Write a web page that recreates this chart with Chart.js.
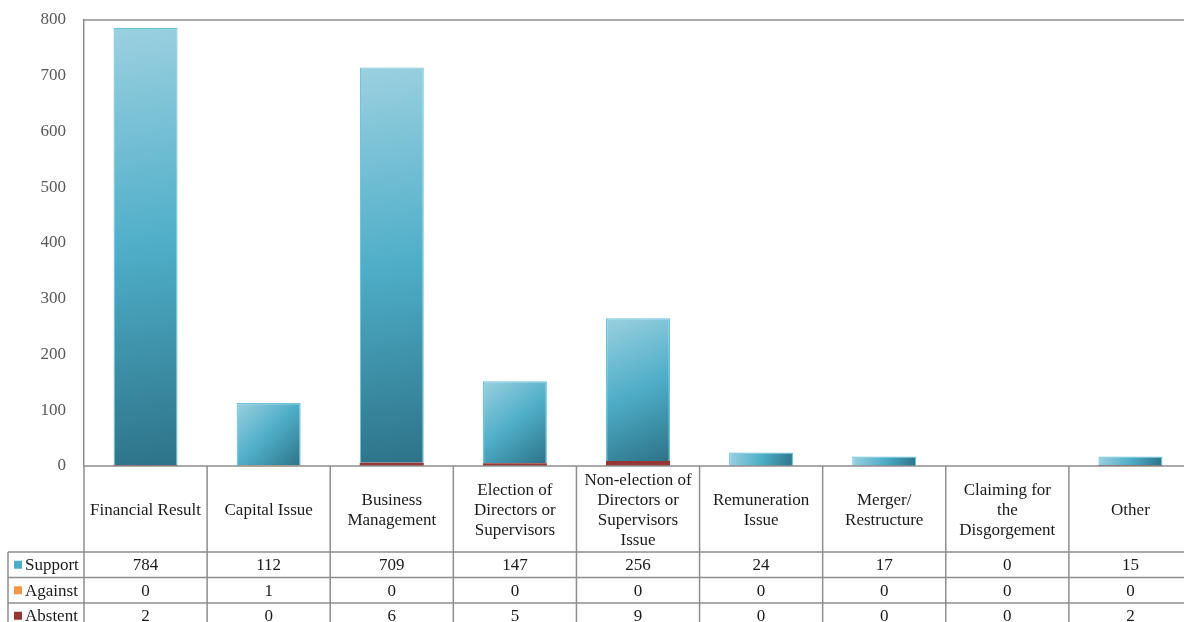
<!DOCTYPE html>
<html lang="en">
<head>
  <meta charset="UTF-8">
  <title>Votes by proposal type</title>
  <script src="https://cdn.jsdelivr.net/npm/chart.js"></script>
  <style>
    html, body { margin: 0; padding: 0; background: #fff; overflow: hidden; }
    #wrap { position: absolute; left: 0; top: 0; width: 1192px; height: 630px; }
  </style>
</head>
<body>
  <div id="wrap"><canvas id="chart"></canvas></div>

  <script>
    // categories (multi-line labels as they wrap in the table header)
    const categories = [
      ["Financial Result"],
      ["Capital Issue"],
      ["Business", "Management"],
      ["Election of", "Directors or", "Supervisors"],
      ["Non-election of", "Directors or", "Supervisors", "Issue"],
      ["Remuneration", "Issue"],
      ["Merger/", "Restructure"],
      ["Claiming for", "the", "Disgorgement"],
      ["Other"]
    ];
    const support = [784, 112, 709, 147, 256, 24, 17, 0, 15];
    const against = [0, 1, 0, 0, 0, 0, 0, 0, 0];
    const abstent = [2, 0, 6, 5, 9, 0, 0, 0, 2];
    const yMax = 800;
    const yStep = 100;

    const SERIF = '"Liberation Serif", "Times New Roman", serif';
    const LINE = '#8e8e8e';
    const FONT_SIZE = 17;

    // per-bar diagonal gradient like the Excel fill
    function supportFill(c) {
      const chart = c.chart;
      const area = chart.chartArea;
      const x = chart.scales && chart.scales.x, y = chart.scales && chart.scales.y;
      if (!area || !x || !y || c.dataIndex === undefined) return '#4BACC6';
      const cx = x.getPixelForValue(c.dataIndex);
      const half = (area.right - area.left) / categories.length * 0.26;
      const base = abstent[c.dataIndex] + against[c.dataIndex];
      const yTop = y.getPixelForValue(base + support[c.dataIndex]);
      const yBot = y.getPixelForValue(base);
      if (!isFinite(yTop) || !isFinite(cx) || yBot - yTop < 0.5) return '#4BACC6';
      const g = chart.ctx.createLinearGradient(cx - half, yTop, cx + half, yBot);
      g.addColorStop(0, '#9bd0e0');
      g.addColorStop(0.5, '#4eaec8');
      g.addColorStop(1, '#2d7388');
      return g;
    }

    const rows = [
      { name: "Support", color: "#4BACC6", values: support },
      { name: "Against", color: "#F79646", values: against },
      { name: "Abstent", color: "#953735", values: abstent }
    ];

    const dataTable = {
      id: 'dataTable',
      afterDraw(chart) {
        const { ctx, chartArea: a } = chart;
        const x = chart.scales.x;
        const n = categories.length;
        const colW = (a.right - a.left) / n;
        const headH = 86, rowH = 25.5;
        const top = a.bottom, rowsTop = top + headH;
        const bottom = rowsTop + rows.length * rowH;
        const legendLeft = 8;

        ctx.save();
        ctx.strokeStyle = LINE;
        ctx.lineWidth = 1.5;

        // plot frame top
        ctx.beginPath();
        ctx.moveTo(a.left, a.top);
        ctx.lineTo(a.right, a.top);
        ctx.stroke();

        // horizontal table lines
        ctx.beginPath();
        ctx.moveTo(a.left, top); ctx.lineTo(a.right, top);
        for (let r = 0; r <= rows.length; r++) {
          const yy = rowsTop + r * rowH;
          ctx.moveTo(legendLeft, yy); ctx.lineTo(a.right, yy);
        }
        // vertical lines
        for (let i = 0; i <= n; i++) {
          const xx = a.left + i * colW;
          ctx.moveTo(xx, top); ctx.lineTo(xx, bottom);
        }
        ctx.moveTo(legendLeft, rowsTop); ctx.lineTo(legendLeft, bottom);
        ctx.stroke();

        // header labels
        ctx.fillStyle = '#1a1a1a';
        ctx.font = FONT_SIZE + 'px ' + SERIF;
        ctx.textAlign = 'center';
        ctx.textBaseline = 'middle';
        const lh = 20;
        categories.forEach((lines, i) => {
          const cx = x.getPixelForValue(i);
          const y0 = top + headH / 2 + 2 - (lines.length - 1) * lh / 2;
          lines.forEach((t, k) => ctx.fillText(t, cx, y0 + k * lh));
        });

        // rows
        rows.forEach((row, r) => {
          const cy = rowsTop + r * rowH + rowH / 2;
          ctx.fillStyle = row.color;
          ctx.fillRect(legendLeft + 6, cy - 4, 8, 8);
          ctx.fillStyle = '#1a1a1a';
          ctx.textAlign = 'left';
          ctx.fillText(row.name, legendLeft + 17, cy + 1);
          ctx.textAlign = 'center';
          row.values.forEach((v, i) => {
            ctx.fillText(String(v), x.getPixelForValue(i), cy + 1);
          });
        });
        ctx.restore();
      }
    };

    const ctx = document.getElementById('chart').getContext('2d');
    new Chart(ctx, {
      type: 'bar',
      data: {
        labels: categories,
        datasets: [
          { label: "Abstent", data: abstent, backgroundColor: "#953735", borderWidth: 0 },
          { label: "Against", data: against, backgroundColor: "#F79646", borderWidth: 0 },
          { label: "Support", data: support, backgroundColor: supportFill, borderColor: "#6ac4dc", borderWidth: 1.2 }
        ]
      },
      options: {
        responsive: true,
        maintainAspectRatio: false,
        animation: false,
        layout: { padding: { left: 0, right: 0, top: 20, bottom: 164 } },
        datasets: { bar: { categoryPercentage: 1, barPercentage: 0.52 } },
        plugins: { legend: { display: false }, tooltip: { enabled: false } },
        scales: {
          x: { stacked: true, display: false },
          y: {
            stacked: true,
            min: 0,
            max: yMax,
            afterFit(scale) {
              scale.width = 84;
              scale.paddingTop = 0;
              scale.paddingBottom = 0;
            },
            grid: { display: false, drawTicks: false },
            border: { display: true, color: LINE, width: 1.5 },
            ticks: {
              stepSize: yStep,
              padding: 18,
              color: '#595959',
              font: { family: SERIF, size: FONT_SIZE }
            }
          }
        }
      },
      plugins: [dataTable]
    });
  </script>
</body>
</html>
